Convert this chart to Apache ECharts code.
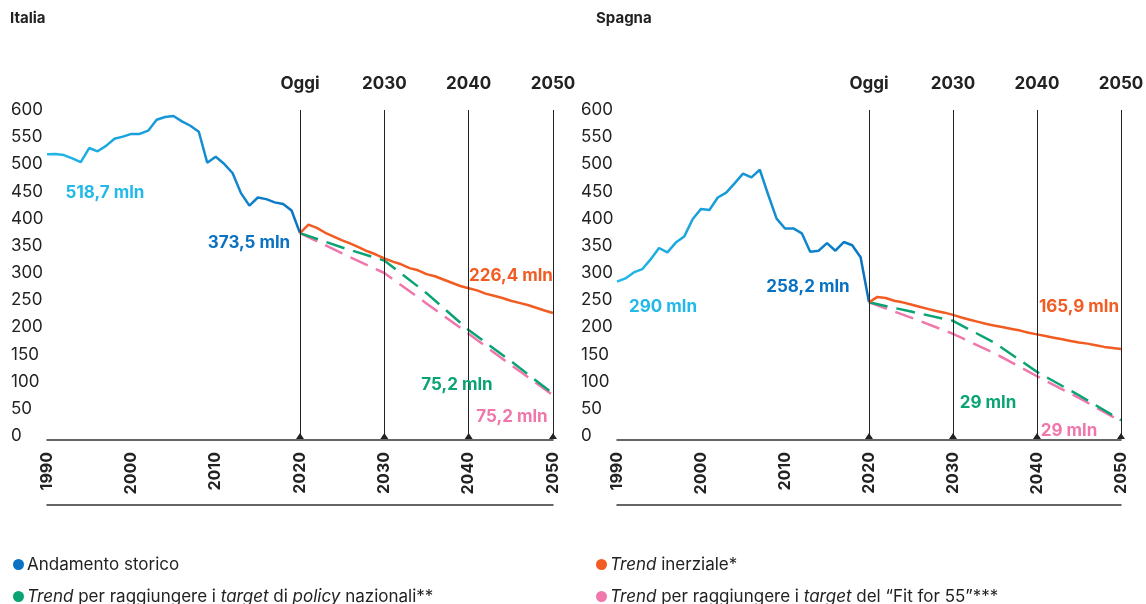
<!DOCTYPE html>
<html>
<head>
<meta charset="utf-8">
<script src="https://cdn.jsdelivr.net/npm/echarts@6/dist/echarts.min.js"></script>
<style>
  html, body { margin: 0; padding: 0; background: #fff; }
  #chart { width: 1146px; height: 604px; }
</style>
</head>
<body>
<div id="chart"></div>
<script>
// anni storici e di proiezione
const histYears = [1990, 1991, 1992, 1993, 1994, 1995, 1996, 1997, 1998, 1999, 2000, 2001, 2002, 2003, 2004, 2005, 2006, 2007, 2008, 2009, 2010, 2011, 2012, 2013, 2014, 2015, 2016, 2017, 2018, 2019, 2020];
const projYears = [2020, 2021, 2022, 2023, 2024, 2025, 2026, 2027, 2028, 2029, 2030, 2031, 2032, 2033, 2034, 2035, 2036, 2037, 2038, 2039, 2040, 2041, 2042, 2043, 2044, 2045, 2046, 2047, 2048, 2049, 2050];
const targetYears = [2020, 2025, 2030, 2035, 2040, 2045, 2050];

// Italia
const itaHist = [518.7, 519, 517, 511, 504, 530, 524, 534, 547, 551, 556, 556, 562, 582, 587, 589, 579, 571, 560, 503, 514, 501, 484, 447, 424, 439, 436, 430, 427, 415, 373.5];
const itaInerziale = [373.5, 389, 383, 374, 367, 360, 354, 347, 340, 334, 327, 321, 316, 309, 305, 298, 294, 288, 282, 276, 272, 268, 262, 258, 254, 249, 245, 241, 236, 231, 226.4];
const itaNazionali = [373.5, 347, 323, 263, 195, 138, 78];
const itaFit55 = [373.5, 336, 300, 244, 188, 131, 75.2];

// Spagna
const spaHist = [284, 290, 301, 307, 325, 346, 338, 356, 367, 399, 418, 416, 439, 448, 465, 483, 476, 490, 444, 400, 382, 382, 373, 339, 341, 355, 341, 357, 351, 329, 246];
const spaInerziale = [246, 256, 254, 249, 246, 242, 238, 234, 230, 227, 223, 218, 214, 210, 206, 203, 200, 197, 194, 190, 187, 184, 181, 178, 175, 172, 170, 167, 164, 162, 160];
const spaNazionali = [246, 229, 212, 171, 118, 75, 29];
const spaFit55 = [246, 218, 188, 152, 110, 70, 27];

// linee di riferimento in alto
const refYears = [2020, 2030, 2040, 2050];
const refLabels = { 2020: "Oggi", 2030: "2030", 2040: "2040", 2050: "2050" };

const names = {
  hist: "Andamento storico",
  inerz: "Trend inerziale*",
  naz: "Trend per raggiungere i target di policy nazionali**",
  fit: "Trend per raggiungere i target del “Fit for 55”***",
};
const richNames = {};
richNames[names.hist] = "Andamento storico";
richNames[names.inerz] = "{i|Trend} inerziale*";
richNames[names.naz] = "{i|Trend} per raggiungere i {i|target} di {i|policy} nazionali**";
richNames[names.fit] = "{i|Trend} per raggiungere i {i|target} del “Fit for 55”***";

const colors = {
  histLight: "#22b9e9",
  histDark: "#0a72c2",
  inerz: "#f25c22",
  naz: "#0aa374",
  fit: "#ef77ab",
};

const FONT = "Inter, 'Noto Sans', sans-serif";
const pairs = (xs, ys) => xs.map((x, i) => [x, ys[i]]);

const chart = echarts.init(document.getElementById("chart"));

const makeXAxis = (gi) => [
  {
    type: "value",
    gridIndex: gi,
    min: 1990,
    max: 2050,
    interval: 10,
    offset: 4,
    axisLine: { show: true, onZero: false, lineStyle: { color: "#333", width: 1.5 } },
    axisTick: { show: false },
    splitLine: { show: false },
    axisLabel: {
      rotate: 90,
      margin: 12,
      color: "#222",
      fontFamily: FONT,
      fontWeight: "bold",
      fontSize: 16,
      formatter: (v) => String(v),
    },
  },
  {
    type: "value",
    gridIndex: gi,
    position: "bottom",
    min: 1990,
    max: 2050,
    offset: 69,
    axisLine: { show: true, onZero: false, lineStyle: { color: "#333", width: 1.5 } },
    axisTick: { show: false },
    axisLabel: { show: false },
    splitLine: { show: false },
  },
];

const makeYAxis = (gi) => ({
  type: "value",
  gridIndex: gi,
  min: 0,
  max: 600,
  interval: 50,
  axisLine: { show: false },
  axisTick: { show: false },
  splitLine: { show: false },
  axisLabel: {
    align: "left",
    margin: 36,
    color: "#222",
    fontFamily: FONT,
    fontSize: 17,
  },
});

const labelPoint = (coord, text, color, offset) => ({
  coord: coord,
  symbolSize: 0,
  label: {
    show: true,
    position: "inside",
    offset: offset,
    formatter: text,
    color: color,
    fontFamily: FONT,
    fontWeight: "bold",
    fontSize: 17,
  },
});

const refLines = () => ({
  silent: true,
  animation: false,
  symbol: ["triangle", "none"],
  symbolSize: [8, 6],
  symbolRotate: 0,
  symbolOffset: [0, 1],
  lineStyle: { color: "#222", width: 1, type: "solid" },
  label: {
    show: true,
    position: "end",
    distance: 18,
    color: "#222",
    fontFamily: FONT,
    fontWeight: "bold",
    fontSize: 17,
    formatter: (p) => refLabels[p.value],
  },
  data: refYears.map((y) => ({ xAxis: y })),
});

const makeSeries = (gi, hist, inerz, naz, fit, marks) => [
  {
    name: names.hist,
    type: "line",
    xAxisIndex: gi * 2,
    yAxisIndex: gi,
    data: pairs(histYears, hist),
    showSymbol: false,
    itemStyle: { color: colors.histDark },
    lineStyle: {
      width: 2.5,
      color: new echarts.graphic.LinearGradient(0, 0, 1, 0, [
        { offset: 0, color: colors.histLight },
        { offset: 1, color: colors.histDark },
      ]),
    },
    markPoint: { silent: true, data: marks.hist },
    z: 3,
  },
  {
    name: names.inerz,
    type: "line",
    xAxisIndex: gi * 2,
    yAxisIndex: gi,
    data: pairs(projYears, inerz),
    showSymbol: false,
    itemStyle: { color: colors.inerz },
    lineStyle: { width: 2.5, color: colors.inerz },
    markLine: refLines(),
    markPoint: { silent: true, data: marks.inerz },
    z: 3,
  },
  {
    name: names.naz,
    type: "line",
    xAxisIndex: gi * 2,
    yAxisIndex: gi,
    data: pairs(targetYears, naz),
    showSymbol: false,
    itemStyle: { color: colors.naz },
    lineStyle: { width: 2.5, color: colors.naz, type: [19, 9] },
    markPoint: { silent: true, data: marks.naz },
    z: 2,
  },
  {
    name: names.fit,
    type: "line",
    xAxisIndex: gi * 2,
    yAxisIndex: gi,
    data: pairs(targetYears, fit),
    showSymbol: false,
    itemStyle: { color: colors.fit },
    lineStyle: { width: 2.5, color: colors.fit, type: [19, 9] },
    markPoint: { silent: true, data: marks.fit },
    z: 1,
  },
];

const itaMarks = {
  hist: [
    labelPoint([1990, itaHist[0]], "518,7 mln", colors.histLight, [58, 39]),
    labelPoint([2020, itaHist[30]], "373,5 mln", colors.histDark, [-51, 10]),
  ],
  inerz: [labelPoint([2050, itaInerziale[30]], "226,4 mln", colors.inerz, [-42, -37])],
  naz: [labelPoint([2050, itaNazionali[6]], "75,2 mln", colors.naz, [-96, -9])],
  fit: [labelPoint([2050, itaFit55[6]], "75,2 mln", colors.fit, [-41, 22])],
};

const spaMarks = {
  hist: [
    labelPoint([1990, spaHist[0]], "290 mln", colors.histLight, [46, 25]),
    labelPoint([2020, spaHist[30]], "258,2 mln", colors.histDark, [-61, -15]),
  ],
  inerz: [labelPoint([2050, spaInerziale[30]], "165,9 mln", colors.inerz, [-42, -42])],
  naz: [labelPoint([2050, spaNazionali[6]], "29 mln", colors.naz, [-133, -17])],
  fit: [labelPoint([2050, spaFit55[6]], "29 mln", colors.fit, [-52, 10])],
};

const legendItem = (name, left, top) => ({
  data: [name],
  left: left,
  top: top,
  icon: "circle",
  itemWidth: 11,
  itemHeight: 11,
  itemGap: 4,
  selectedMode: false,
  padding: 0,
  formatter: (n) => richNames[n],
  textStyle: {
    color: "#222",
    fontFamily: FONT,
    fontSize: 17,
    padding: [0, 0, 0, -2],
    rich: { i: { fontStyle: "italic", fontFamily: FONT, fontSize: 17, color: "#222" } },
  },
});

const option = {
  animation: false,
  backgroundColor: "#fff",
  title: [
    { text: "Italia", left: 5, top: 6, textStyle: { fontFamily: FONT, fontWeight: "bold", fontSize: 15, color: "#222" } },
    { text: "Spagna", left: 591, top: 6, textStyle: { fontFamily: FONT, fontWeight: "bold", fontSize: 15, color: "#222" } },
  ],
  grid: [
    { left: 47, right: 593, top: 110, bottom: 168 },
    { left: 617, right: 25, top: 110, bottom: 168 },
  ],
  xAxis: [...makeXAxis(0), ...makeXAxis(1)],
  yAxis: [makeYAxis(0), makeYAxis(1)],
  legend: [
    legendItem(names.hist, 13, 556),
    legendItem(names.inerz, 596, 556),
    legendItem(names.naz, 13, 588),
    legendItem(names.fit, 596, 588),
  ],
  series: [
    ...makeSeries(0, itaHist, itaInerziale, itaNazionali, itaFit55, itaMarks),
    ...makeSeries(1, spaHist, spaInerziale, spaNazionali, spaFit55, spaMarks),
  ],
};

chart.setOption(option);
</script>
</body>
</html>
